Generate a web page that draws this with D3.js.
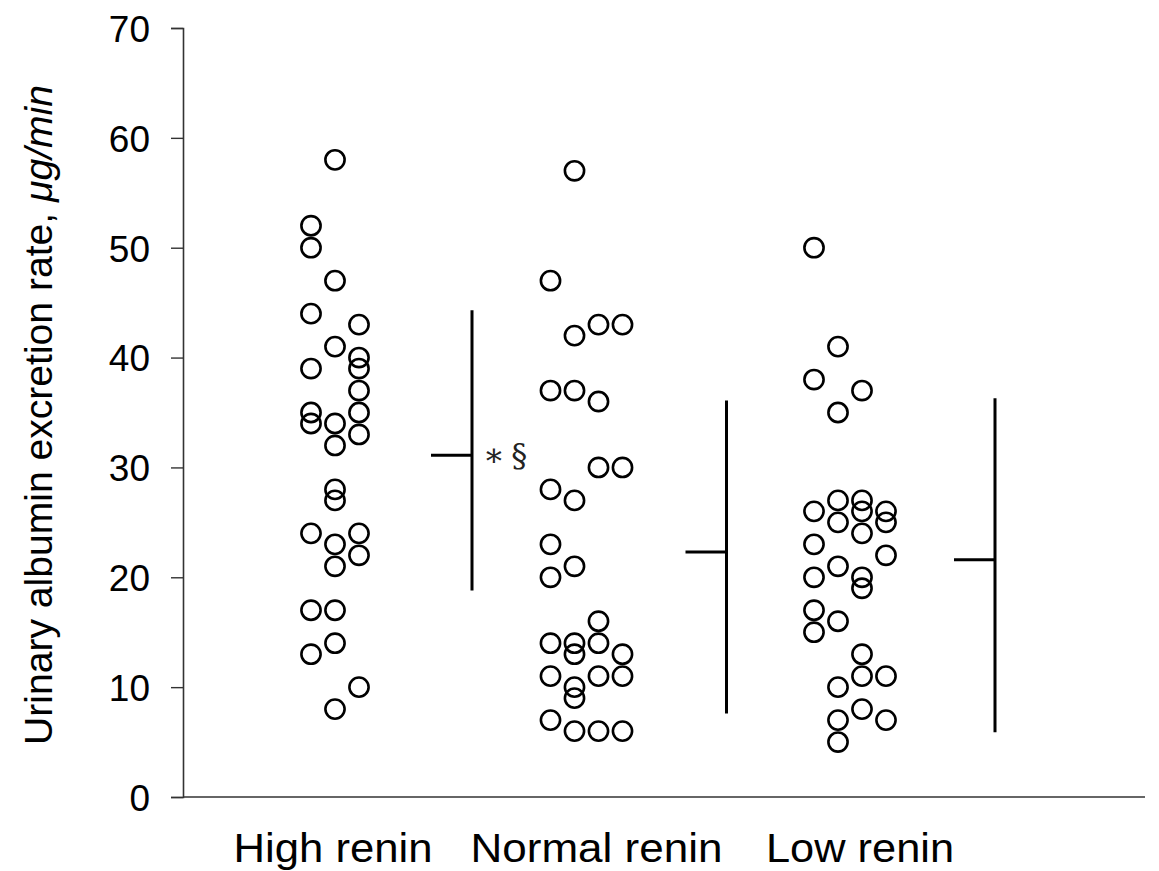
<!DOCTYPE html>
<html>
<head>
<meta charset="utf-8">
<script src="https://cdnjs.cloudflare.com/ajax/libs/d3/7.8.5/d3.min.js"></script>
<style>
  body { margin: 0; background: #fff; }
  svg { display: block; font-family: "Liberation Sans", Arial, sans-serif; }
</style>
</head>
<body>
<svg id="chart" width="1159" height="871"></svg>
<script>
// groups shown along the x axis
var groups = ["High renin", "Normal renin", "Low renin"];

// individual values (µg/min) and the column each dot sits in
var highVals = [58,52,50,47,44,43,41,40,39,39,37,35,35,34,34,33,32,28,27,24,24,23,22,21,17,17,14,13,10,8];
var highCols = [0,-1,-1,0,-1,1,0,1,-1,1,1,-1,1,-1,0,1,0,0,0,-1,1,0,1,0,-1,0,0,-1,1,0];

var normalVals = [57,47,43,43,42,37,37,36,30,30,28,27,23,21,20,16,14,14,14,13,13,11,11,11,10,9,7,6,6,6];
var normalCols = [-1,-2,0,1,-1,-2,-1,0,0,1,-2,-1,-2,-1,-2,0,-2,-1,0,-1,1,-2,0,1,-1,-1,-2,-1,0,1];

var lowVals = [50,41,38,37,35,27,27,26,26,26,25,25,24,23,22,21,20,20,19,17,16,15,13,11,11,10,8,7,7,5];
var lowCols = [-2,-1,-2,0,-1,-1,0,-2,0,1,-1,1,0,-2,1,-1,-2,0,0,-2,-1,-2,0,0,1,-1,0,-1,1,-1];

// mean and spread lines
var means = [31.1, 22.3, 21.6];
var lows = [18.8, 7.6, 5.9];
var highs = [44.3, 36.1, 36.3];
var notes = ["\u2217\u2009\u00a7", "", ""];

var yTicks = [0, 10, 20, 30, 40, 50, 60, 70];

var svg = d3.select("#chart");

var y = d3.scaleLinear().domain([0, 70]).range([797, 28]);
var x = d3.scalePoint().domain(groups).range([335, 862]);
var col = function (c) { return c * 24; };

// y axis
var yAxis = d3.axisLeft(y).tickValues(yTicks).tickSize(12).tickPadding(21);
var gy = svg.append("g")
    .attr("transform", "translate(183,0)")
    .call(yAxis);
gy.attr("font-size", null).attr("font-family", null);
gy.select(".domain").attr("stroke", "#333").attr("stroke-width", 1.6);
gy.selectAll(".tick line").attr("stroke", "#333").attr("stroke-width", 1.4);
gy.selectAll(".tick text")
    .style("font-size", "37px")
    .attr("fill", "#000")
    .attr("dy", "0.36em");

// x axis line
svg.append("line")
    .attr("x1", 183).attr("x2", 1145)
    .attr("y1", y(0)).attr("y2", y(0))
    .attr("stroke", "#333").attr("stroke-width", 1.6);

// y label
var ylab = svg.append("text")
    .attr("transform", "translate(52,415) rotate(-90)")
    .attr("text-anchor", "middle")
    .attr("font-size", 38)
    .attr("textLength", 660)
    .attr("lengthAdjust", "spacingAndGlyphs");
ylab.append("tspan").text("Urinary albumin excretion rate, ");
ylab.append("tspan").attr("font-style", "italic").text("\u03bcg/min");

// category labels
var labW = [199, 252, 188];
svg.selectAll(".cat")
    .data(groups)
    .enter().append("text")
    .attr("class", "cat")
    .attr("x", function (d) { return x(d) - 2; })
    .attr("y", 862)
    .attr("text-anchor", "middle")
    .attr("font-size", 40)
    .attr("textLength", function (d, i) { return labW[i]; })
    .attr("lengthAdjust", "spacingAndGlyphs")
    .text(function (d) { return d; });

// dots
var sets = [[highVals, highCols], [normalVals, normalCols], [lowVals, lowCols]];
var pts = [];
sets.forEach(function (s, gi) {
    s[0].forEach(function (v, i) {
        pts.push({ g: groups[gi], v: v, c: s[1][i] });
    });
});

svg.selectAll(".dot")
    .data(pts)
    .enter().append("circle")
    .attr("class", "dot")
    .attr("cx", function (d) { return x(d.g) + col(d.c); })
    .attr("cy", function (d) { return y(d.v); })
    .attr("r", 9.6)
    .attr("fill", "none")
    .attr("stroke", "#000")
    .attr("stroke-width", 2.6);

// mean lines with spread
var barOff = [137, 128, 133];
var bars = svg.selectAll(".bar")
    .data(groups)
    .enter().append("g")
    .attr("class", "bar")
    .attr("transform", function (d, i) { return "translate(" + (x(d) + barOff[i]) + ",0)"; });

bars.append("line")
    .attr("x1", 0).attr("x2", 0)
    .attr("y1", function (d, i) { return y(highs[i]); })
    .attr("y2", function (d, i) { return y(lows[i]); })
    .attr("stroke", "#000").attr("stroke-width", 3);

bars.append("line")
    .attr("x1", -41).attr("x2", 0)
    .attr("y1", function (d, i) { return y(means[i]); })
    .attr("y2", function (d, i) { return y(means[i]); })
    .attr("stroke", "#000").attr("stroke-width", 3);

bars.append("text")
    .attr("x", 11)
    .attr("y", function (d, i) { return y(means[i]) + 11; })
    .attr("font-family", "'DejaVu Serif', 'Liberation Serif', serif")
    .attr("font-size", 32)
    .attr("fill", "#222")
    .text(function (d, i) { return notes[i]; });
</script>
</body>
</html>
